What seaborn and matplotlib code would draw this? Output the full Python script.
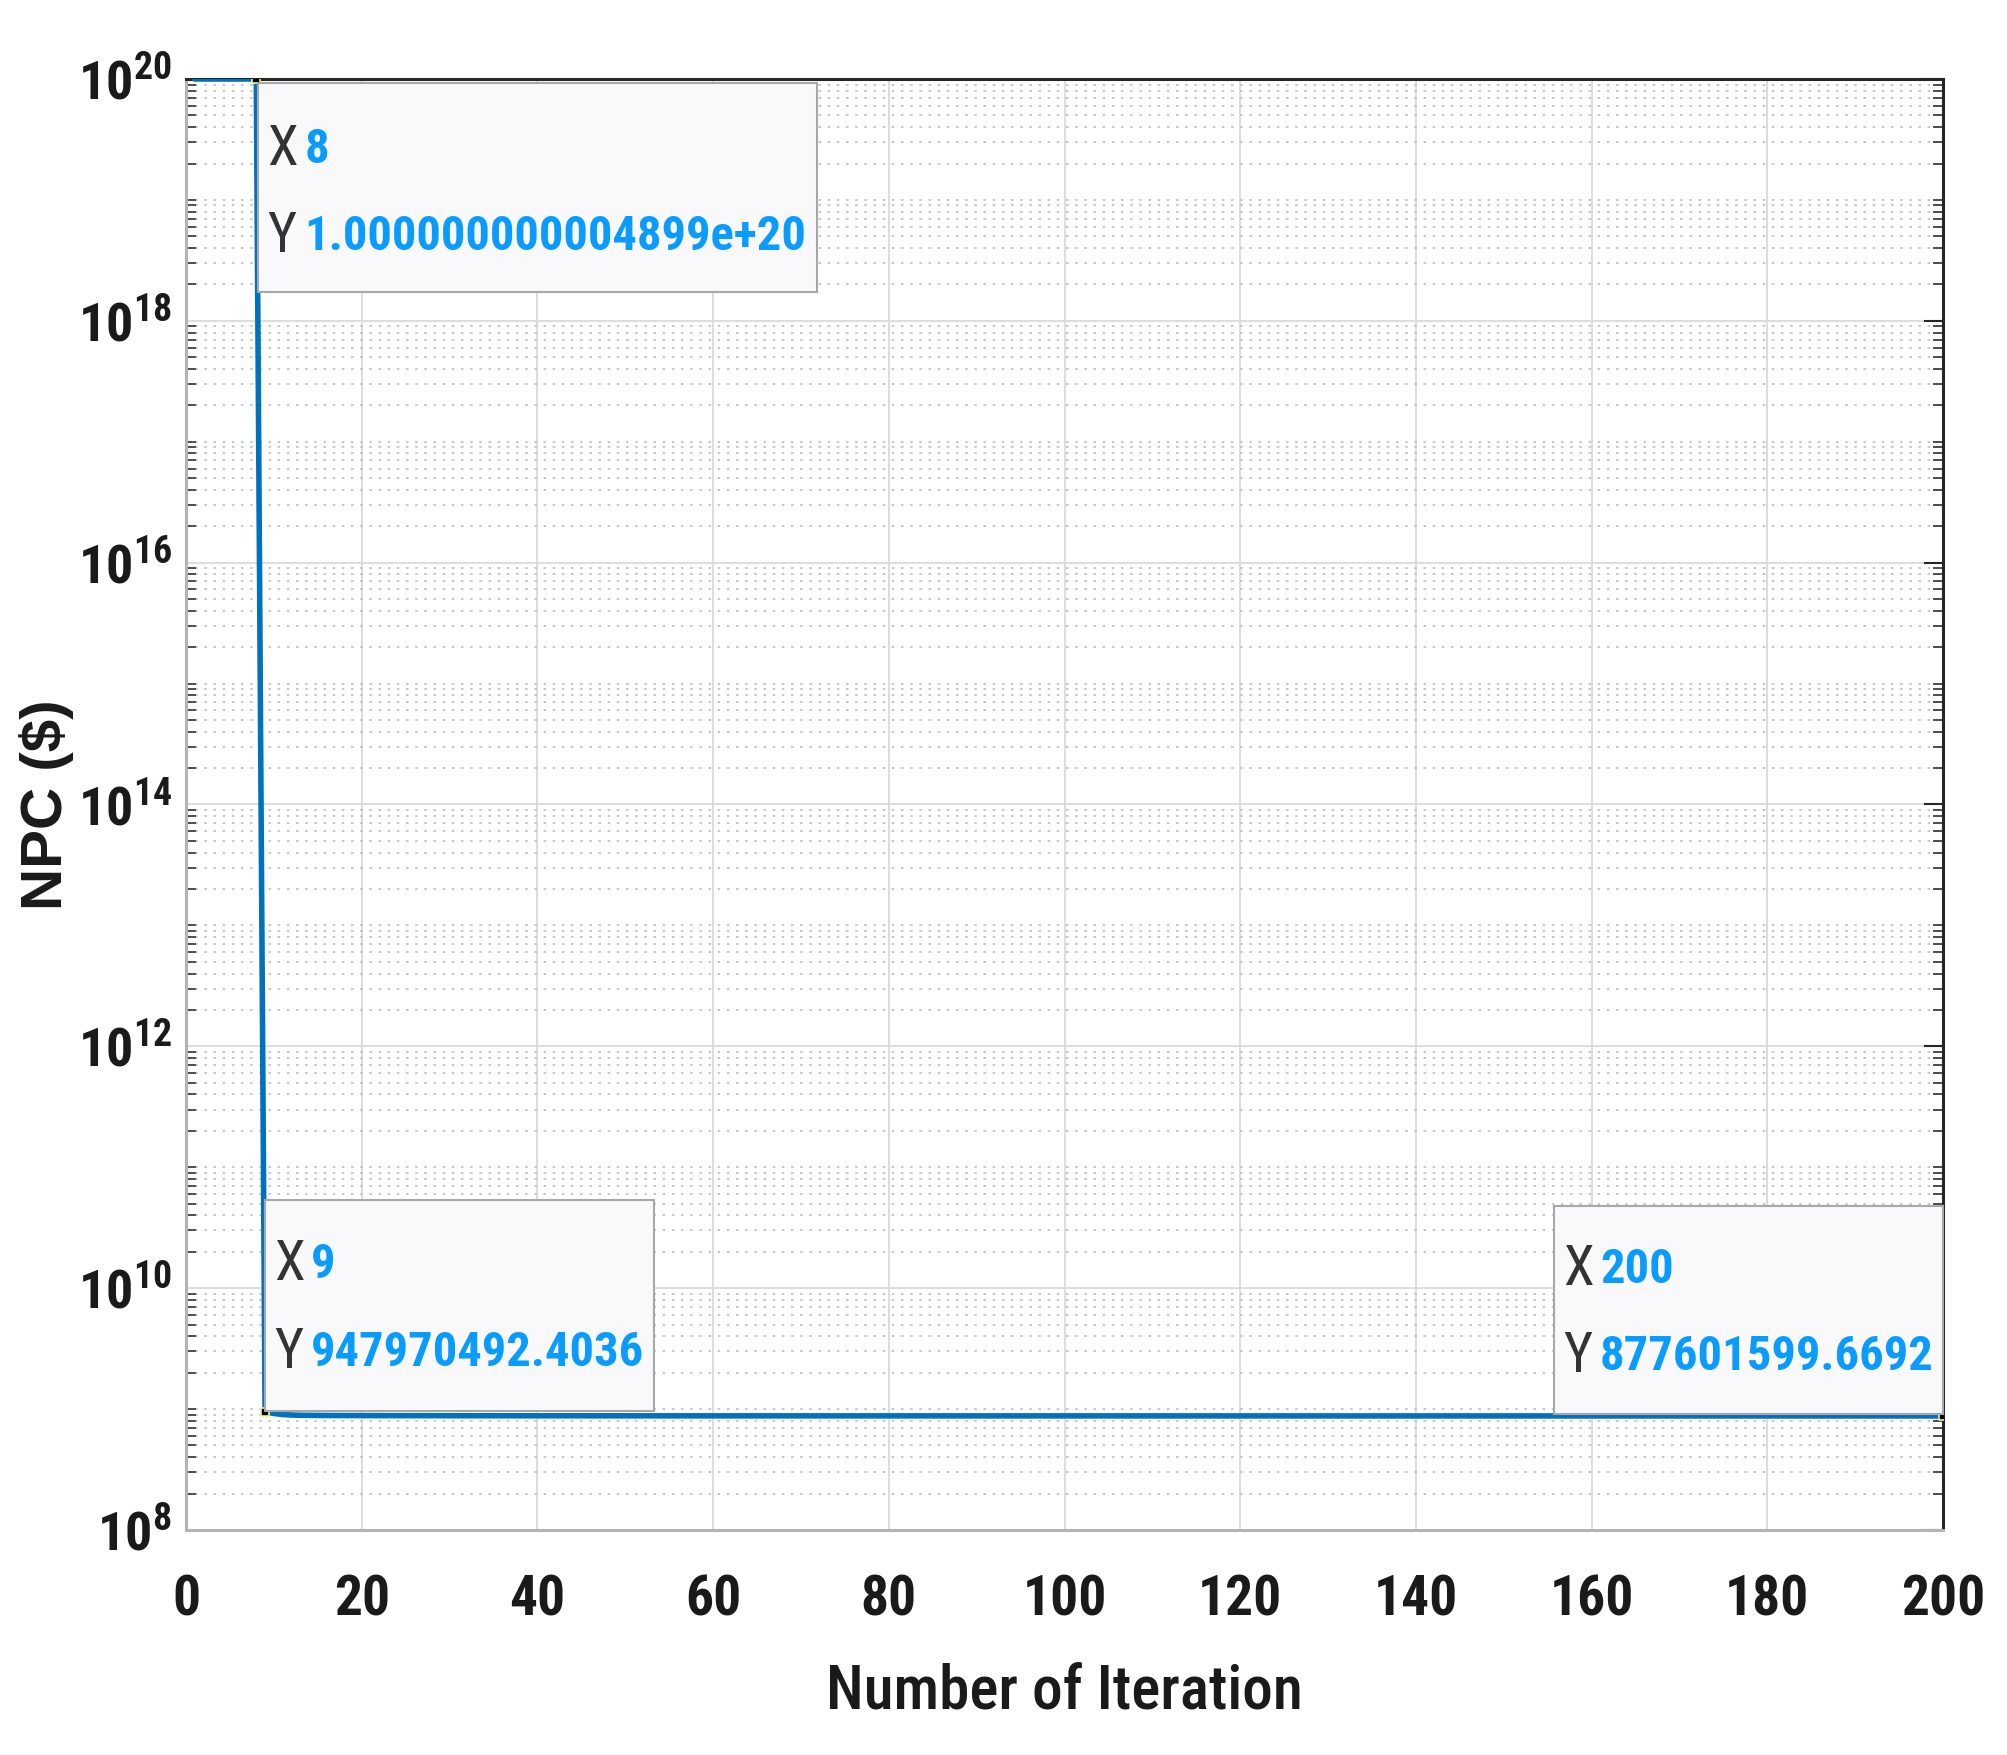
import numpy as np
import pandas as pd

import matplotlib
matplotlib.use("Agg")
import matplotlib.pyplot as plt
import matplotlib.ticker as mticker
from matplotlib.patches import Rectangle
from matplotlib.transforms import IdentityTransform
import seaborn as sns

# convergence curve (best NPC found so far at each iteration)
iterations = [1, 2, 3, 4, 5, 6, 7, 8, 9, 10, 11, 12, 13, 15, 18, 25, 40, 60, 90, 130, 170, 200]
npc_values = [1.000000000004899e20, 1.000000000004899e20, 1.000000000004899e20, 1.000000000004899e20,
              1.000000000004899e20, 1.000000000004899e20, 1.000000000004899e20, 1.000000000004899e20,
              947970492.4036, 9.20e8, 9.02e8, 8.93e8, 8.89e8, 8.86e8, 8.84e8, 8.82e8,
              8.80e8, 8.79e8, 8.785e8, 8.78e8, 8.777e8, 877601599.6692]

# data tips shown on the figure
tip_x = [8, 9, 200]
tip_text_x = ['8', '9', '200']
tip_text_y = ['1.000000000004899e+20', '947970492.4036', '877601599.6692']

x_ticks = list(range(0, 201, 20))
y_tick_exps = [8, 10, 12, 14, 16, 18, 20]

NARROW = ['Roboto Condensed', 'PT Sans Narrow', 'Liberation Sans', 'DejaVu Sans']
BLUE = '#0072BD'
TIP_BLUE = '#0A9BFF'
INK = '#1a1a1a'

W, H = 2007, 1755
sns.set_style("white")
plt.rcParams['font.family'] = NARROW
plt.rcParams['mathtext.fontset'] = 'custom'
plt.rcParams['mathtext.rm'] = NARROW[0]
plt.rcParams['mathtext.bf'] = NARROW[0] + ':bold'

fig = plt.figure(figsize=(W / 100, H / 100), dpi=100)
ax = fig.add_axes([186 / W, 1 - 1530 / H, (1943 - 186) / W, (1530 - 79) / H])

df = pd.DataFrame({'Iteration': iterations, 'NPC': npc_values})
sns.lineplot(data=df, x='Iteration', y='NPC', color=BLUE, linewidth=4, ax=ax, zorder=3)

ax.set_yscale('log')
ax.set_xlim(0, 200)
ax.set_ylim(1e8, 1e20)

ax.set_xticks(x_ticks)
ax.set_xticklabels([str(t) for t in x_ticks], fontsize=40, fontweight='bold')
ax.yaxis.set_major_locator(mticker.FixedLocator([10.0 ** e for e in y_tick_exps]))
ax.yaxis.set_major_formatter(mticker.FixedFormatter(
    [r'$\mathbf{10^{%d}}$' % e for e in y_tick_exps]))
ax.yaxis.set_minor_locator(mticker.LogLocator(base=10, subs=np.arange(1, 10), numticks=100))
ax.yaxis.set_minor_formatter(mticker.NullFormatter())
for lbl in ax.get_yticklabels():
    lbl.set_fontsize(39)

ax.tick_params(axis='x', which='major', direction='in', length=14, width=1.5,
               color='#262626', pad=32, labelcolor=INK, top=False)
ax.tick_params(axis='y', which='major', direction='in', length=14, width=1.5,
               color='#262626', pad=10, labelcolor=INK, right=True)
ax.tick_params(axis='y', which='minor', direction='in', length=7, width=1.3,
               color='#404040', left=True, right=True)

ax.grid(True, which='major', axis='both', color='#DADADA', linewidth=1.3, linestyle='-')
ax.grid(True, which='minor', axis='y', color='#BDBDBD', linewidth=1.2, linestyle=(0, (1.5, 4)))
ax.set_axisbelow(True)

for side in ['top', 'right']:
    ax.spines[side].set_color('#262626')
    ax.spines[side].set_linewidth(2.2)
for side in ['left', 'bottom']:
    ax.spines[side].set_color('#B4B4B4')
    ax.spines[side].set_linewidth(2.2)

ax.set_xlabel('Number of Iteration', fontsize=44, fontweight='medium', color=INK)
ax.xaxis.set_label_coords(0.5, -(1664 - 1530) / (1530 - 79))
ax.set_ylabel('NPC ($)', fontsize=42, fontweight='bold', color=INK,
              family=['Liberation Sans', 'DejaVu Sans'], va='center')
ax.yaxis.set_label_coords(-(186 - 46) / (1943 - 186), 0.5)

# data tip markers
tips = df[df['Iteration'].isin(tip_x)]
ax.scatter(tips['Iteration'], tips['NPC'], marker='s', s=40, color='black',
           edgecolor='#F5EFA0', linewidth=1.2, zorder=6)

# data tip boxes (placed in pixels relative to the tip point)
box_specs = [  # corner, width, height, x-line offset, y-line offset from box top
    ('ul', 559, 209, 67, 154),
    ('ll', 389, 211, 65, 153),
    ('lr', 389, 208, 64, 151),
]
fig.canvas.draw()
ident = IdentityTransform()
for (_, row), (corner, bw, bh, off_x, off_y), tx, ty in zip(
        tips.iterrows(), box_specs, tip_text_x, tip_text_y):
    px, py = ax.transData.transform((row['Iteration'], row['NPC']))
    if corner == 'ul':
        left, top = px + 2, py - 4
    elif corner == 'll':
        left, top = px, py + bh + 1
    else:
        left, top = px - bw, py + bh + 2
    fig.patches.append(Rectangle((left, top - bh), bw, bh, transform=ident,
                                 facecolor='#F9F9FC', edgecolor='#A8A8A8',
                                 linewidth=1.5, zorder=8, figure=fig))
    for lab, val, off in [('X', tx, off_x), ('Y', ty, off_y)]:
        fig.text(left + 9, top - off, lab, transform=ident, fontsize=40,
                 color='#333333', fontweight='normal', va='center', ha='left', zorder=9)
        fig.text(left + 46, top - off, val, transform=ident, fontsize=35,
                 color=TIP_BLUE, fontweight='bold', va='center', ha='left', zorder=9)

fig.savefig('out.png', dpi=100)
